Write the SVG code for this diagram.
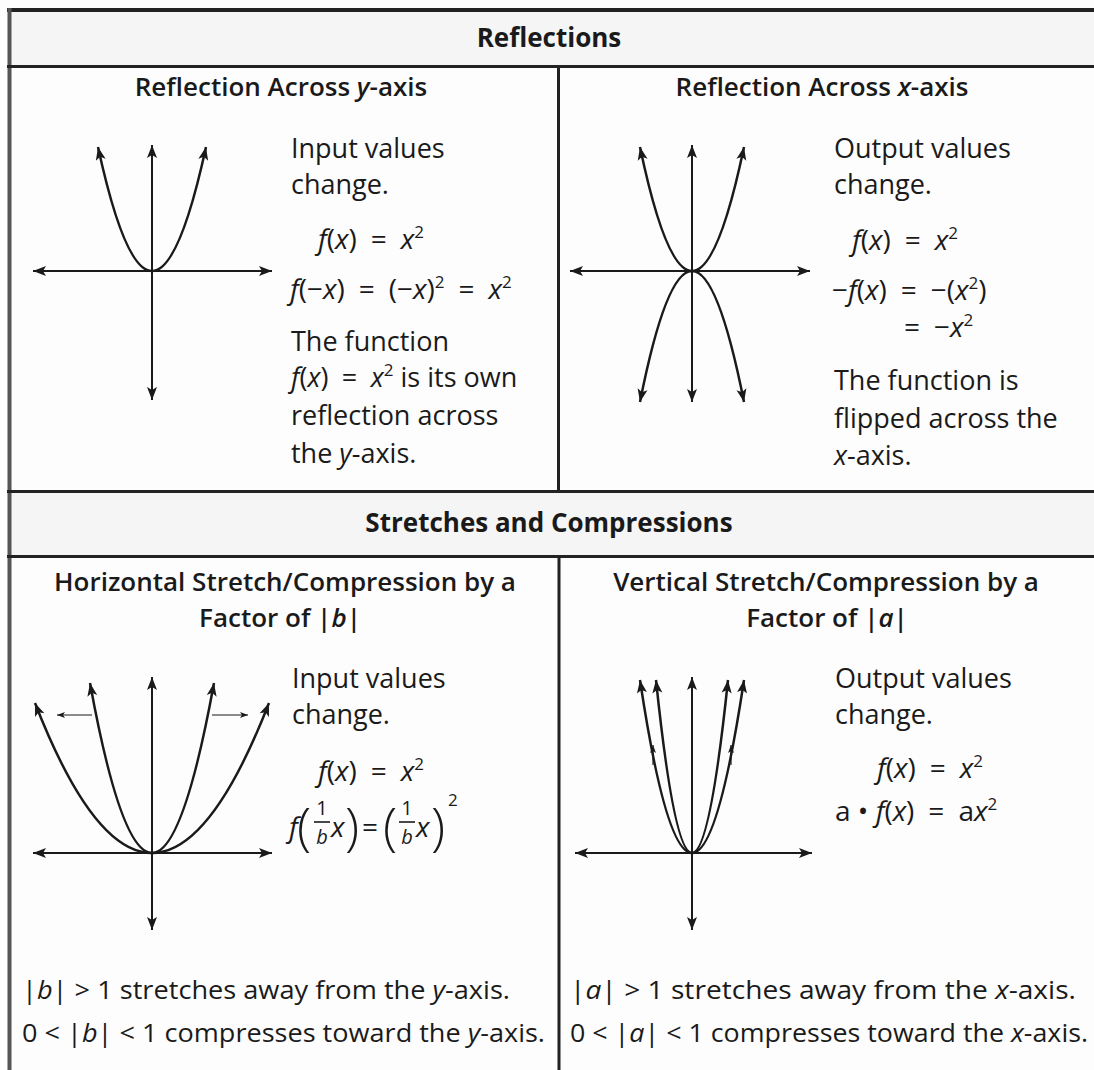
<svg xmlns="http://www.w3.org/2000/svg" width="1094" height="1070" viewBox="0 0 1094 1070">
<style>
text{font-family:"Open Sans","Noto Sans",sans-serif;fill:#1a1a1a}
.h{font-size:26px;font-weight:700}
.t{font-size:26px;font-weight:600}
.b{font-size:27px}
.bt{font-size:26px}
.m{font-size:28px}
.i{font-style:italic}
.s{font-size:17px}
.fr{font-size:20px}
.bp{font-size:52px;font-weight:300}
.ax{stroke:#1a1a1a;stroke-width:2;fill:none;marker-start:url(#ah);marker-end:url(#ah)}
.cv{stroke:#1a1a1a;stroke-width:2.5;fill:none;marker-start:url(#ah);marker-end:url(#ah)}
.sm{stroke:#1a1a1a;stroke-width:1.2;fill:none;marker-end:url(#sa)}
.rule{stroke:#222;stroke-width:3}
.bg{fill:#f5f5f5}
</style>
<defs>
<marker id="ah" markerUnits="userSpaceOnUse" markerWidth="14" markerHeight="10" refX="13" refY="5" orient="auto-start-reverse" overflow="visible">
<path d="M0,0 L13,5 L0,10 L3,5 Z" fill="#1a1a1a"/>
</marker>
<marker id="sa" markerUnits="userSpaceOnUse" markerWidth="8" markerHeight="6" refX="8" refY="3" orient="auto" overflow="visible">
<path d="M0,0 L8,3 L0,6 L2,3 Z" fill="#1a1a1a"/>
</marker>
</defs>
<rect x="0" y="0" width="1094" height="1070" fill="#fdfdfd"/>
<rect class="bg" x="10" y="10" width="1084" height="56"/>
<rect class="bg" x="10" y="492" width="1084" height="64"/>

<g id="rules">
<line class="rule" x1="7" y1="10" x2="1094" y2="10" style="stroke-width:4"/>
<line class="rule" x1="9.5" y1="8" x2="9.5" y2="1070" style="stroke-width:4;stroke:#555"/>
<line class="rule" x1="7" y1="66.5" x2="1094" y2="66.5"/>
<line class="rule" x1="558.5" y1="66" x2="558.5" y2="492"/>
<line class="rule" x1="7" y1="491.5" x2="1094" y2="491.5"/>
<line class="rule" x1="7" y1="556.5" x2="1094" y2="556.5"/>
<line class="rule" x1="559" y1="556" x2="559" y2="1070"/>
</g>

<g id="header-reflections">
<text class="h" x="549" y="47" text-anchor="middle">Reflections</text>
</g>

<g id="cell-reflect-y">
<text class="t" x="281" y="96" text-anchor="middle">Reflection Across <tspan class="i">y</tspan>-axis</text>
<g id="graph-reflect-y">
<path class="ax" d="M33,271 L272,271"/>
<path class="ax" d="M152,145 L152,400"/>
<path class="cv" d="M98,147 Q152,395 206,147"/>
</g>
<text class="b" x="291" y="158">Input values</text>
<text class="b" x="291" y="194">change.</text>
<text class="m" x="318" y="249"><tspan class="i">f</tspan>(<tspan class="i">x</tspan>)&#8194;=&#8194;<tspan class="i">x</tspan><tspan class="s" dy="-11">2</tspan></text>
<text class="m" x="290" y="299"><tspan class="i">f</tspan>(−<tspan class="i">x</tspan>)&#8194;=&#8194;(−<tspan class="i">x</tspan>)<tspan class="s" dy="-11">2</tspan><tspan dy="11">&#8194;=&#8194;</tspan><tspan class="i">x</tspan><tspan class="s" dy="-11">2</tspan></text>
<text class="b" x="291" y="351">The function</text>
<text class="b" x="291" y="387"><tspan class="i">f</tspan>(<tspan class="i">x</tspan>)&#8194;=&#8194;<tspan class="i">x</tspan><tspan class="s" dy="-11">2</tspan><tspan dy="11"> is its own</tspan></text>
<text class="b" x="291" y="425">reflection across</text>
<text class="b" x="291" y="463">the <tspan class="i">y</tspan>-axis.</text>
</g>

<g id="cell-reflect-x">
<text class="t" x="822" y="96" text-anchor="middle">Reflection Across <tspan class="i">x</tspan>-axis</text>
<g id="graph-reflect-x">
<path class="ax" d="M570,271 L810,271"/>
<path class="ax" d="M692,145 L692,402"/>
<path class="cv" d="M640,147 Q692,395 744,147"/>
<path class="cv" d="M640,402 Q692,140 744,402"/>
</g>
<text class="b" x="834" y="158">Output values</text>
<text class="b" x="834" y="194">change.</text>
<text class="m" x="852" y="250"><tspan class="i">f</tspan>(<tspan class="i">x</tspan>)&#8194;=&#8194;<tspan class="i">x</tspan><tspan class="s" dy="-11">2</tspan></text>
<text class="m" x="832" y="300">−<tspan class="i">f</tspan>(<tspan class="i">x</tspan>)&#8194;=&#8194;−(<tspan class="i">x</tspan><tspan class="s" dy="-11">2</tspan><tspan dy="11">)</tspan></text>
<text class="m" x="904" y="337">=&#8194;−<tspan class="i">x</tspan><tspan class="s" dy="-11">2</tspan></text>
<text class="b" x="834" y="390">The function is</text>
<text class="b" x="834" y="428">flipped across the</text>
<text class="b" x="834" y="465"><tspan class="i">x</tspan>-axis.</text>
</g>

<g id="header-stretches">
<text class="h" x="549" y="532" text-anchor="middle">Stretches and Compressions</text>
</g>

<g id="cell-horizontal">
<text class="t" x="285" y="591" text-anchor="middle">Horizontal Stretch/Compression by a</text>
<text class="t" x="280" y="627" text-anchor="middle">Factor of |<tspan class="i">b</tspan>|</text>
<g id="graph-horizontal">
<path class="ax" d="M33,853 L272,853"/>
<path class="ax" d="M152,677 L152,930"/>
<path class="cv" d="M90,683 Q152,1023 214,683"/>
<path class="cv" d="M35,703 Q152,1003 269,703"/>
<path class="sm" d="M92,715 L57,715"/>
<path class="sm" d="M212,715 L248,715"/>
</g>
<text class="b" x="292" y="688">Input values</text>
<text class="b" x="292" y="724">change.</text>
<text class="m" x="318" y="781"><tspan class="i">f</tspan>(<tspan class="i">x</tspan>)&#8194;=&#8194;<tspan class="i">x</tspan><tspan class="s" dy="-11">2</tspan></text>
<text class="m i" x="289" y="837">f</text>
<text class="bp" x="297" y="845">(</text>
<text class="fr" x="322" y="815" text-anchor="middle">1</text>
<line x1="314" y1="822" x2="330" y2="822" stroke="#1a1a1a" stroke-width="1.6"/>
<text class="fr i" x="322" y="844" text-anchor="middle">b</text>
<text class="m i" x="331" y="837">x</text>
<text class="bp" x="345" y="845">)</text>
<text class="m" x="362" y="837">=</text>
<text class="bp" x="383" y="845">(</text>
<text class="fr" x="407" y="815" text-anchor="middle">1</text>
<line x1="399" y1="822" x2="415" y2="822" stroke="#1a1a1a" stroke-width="1.6"/>
<text class="fr i" x="407" y="844" text-anchor="middle">b</text>
<text class="m i" x="416" y="837">x</text>
<text class="bp" x="431" y="845">)</text>
<text class="s" x="448" y="806">2</text>
<text class="bt" x="22" y="999" textLength="488" lengthAdjust="spacingAndGlyphs">|<tspan class="i">b</tspan>| &gt; 1 stretches away from the <tspan class="i">y</tspan>-axis.</text>
<text class="bt" x="22" y="1042" textLength="523" lengthAdjust="spacingAndGlyphs">0 &lt; |<tspan class="i">b</tspan>| &lt; 1 compresses toward the <tspan class="i">y</tspan>-axis.</text>
</g>

<g id="cell-vertical">
<text class="t" x="826" y="591" text-anchor="middle">Vertical Stretch/Compression by a</text>
<text class="t" x="827" y="627" text-anchor="middle">Factor of |<tspan class="i">a</tspan>|</text>
<g id="graph-vertical">
<path class="ax" d="M575,853 L812,853"/>
<path class="ax" d="M692,677 L692,930"/>
<path class="cv" d="M640,680 Q692,1026 744,680"/>
<path class="cv" d="M656,680 Q692,1026 728,680"/>
<path class="sm" d="M653,765 L653,745"/>
<path class="sm" d="M731,765 L731,745"/>
</g>
<text class="b" x="835" y="688">Output values</text>
<text class="b" x="835" y="724">change.</text>
<text class="m" x="877" y="778"><tspan class="i">f</tspan>(<tspan class="i">x</tspan>)&#8194;=&#8194;<tspan class="i">x</tspan><tspan class="s" dy="-11">2</tspan></text>
<text class="m" x="835" y="821">a • <tspan class="i">f</tspan>(<tspan class="i">x</tspan>)&#8194;=&#8194;a<tspan class="i">x</tspan><tspan class="s" dy="-11">2</tspan></text>
<text class="bt" x="570" y="999" textLength="506" lengthAdjust="spacingAndGlyphs">|<tspan class="i">a</tspan>| &gt; 1 stretches away from the <tspan class="i">x</tspan>-axis.</text>
<text class="bt" x="570" y="1042" textLength="518" lengthAdjust="spacingAndGlyphs">0 &lt; |<tspan class="i">a</tspan>| &lt; 1 compresses toward the <tspan class="i">x</tspan>-axis.</text>
</g>
</svg>
